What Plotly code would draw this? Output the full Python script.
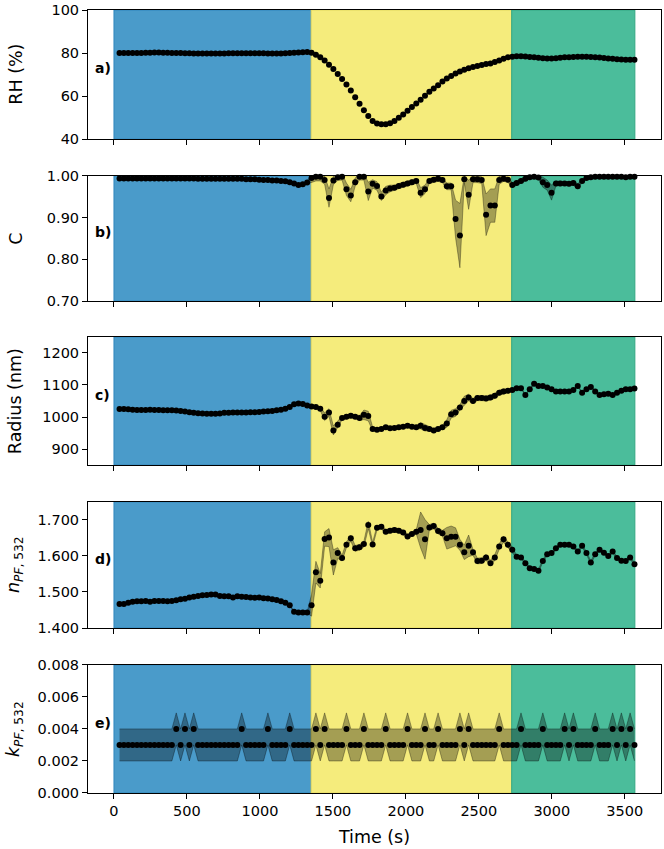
import plotly.graph_objects as go

# ---------------- data ----------------
N = 119
time_s = [round(38 + 29.9 * i, 1) for i in range(N)]  # sampling grid (s)

phase_edges = [0, 1351, 2725, 3569]
phase_colors = ["#4a9bca", "#f5ec7c", "#4bbd9b"]
phase_edge_colors = ["#2f86bd", "#e2d75e", "#34a883"]

rh = [80.0, 80.0, 80.0, 80.0, 80.0, 80.0, 80.1, 80.2, 80.3, 80.3, 80.2, 80.1, 80.0, 80.0, 80.0,
      79.9, 79.9, 79.8, 79.8, 79.8, 79.8, 79.8, 79.8, 79.8, 79.8, 79.9, 79.9, 79.9, 79.9, 79.9,
      79.9, 79.9, 79.9, 79.9, 79.8, 79.8, 79.8, 79.8, 79.9, 80.0, 80.2, 80.3, 80.4, 80.5,
      80.1, 79.2, 78.0, 76.5, 74.6, 72.6, 70.3, 68.0, 65.4, 62.6, 59.5, 56.5, 53.4, 50.8, 48.5,
      47.3, 46.9, 46.9, 47.4, 48.5, 50.0, 51.5, 53.2, 54.9, 56.6, 58.3, 60.2, 62.0, 63.5, 65.1,
      66.8, 68.2, 69.4, 70.5, 71.4, 72.3, 72.9, 73.5, 74.0, 74.5, 74.9, 75.2, 75.8, 76.6, 77.4,
      78.0, 78.3,
      78.5, 78.5, 78.4, 78.2, 78.0, 77.8, 77.6, 77.5, 77.5, 77.6, 77.8, 78.0, 78.1, 78.2, 78.3,
      78.3, 78.3, 78.2, 78.1, 77.9, 77.7, 77.5, 77.3, 77.1, 77.0, 76.9, 76.9, 76.9]

c_val = [0.994, 0.994, 0.994, 0.994, 0.994, 0.994, 0.994, 0.994, 0.994, 0.994, 0.994, 0.994,
         0.994, 0.994, 0.994, 0.994, 0.994, 0.994, 0.993, 0.993, 0.993, 0.993, 0.993, 0.993,
         0.993, 0.993, 0.993, 0.993, 0.993, 0.992, 0.992, 0.992, 0.991, 0.990, 0.990, 0.989,
         0.989, 0.988, 0.987, 0.985, 0.982, 0.978, 0.980, 0.984,
         0.995, 0.998, 0.998, 0.990, 0.947, 0.989, 0.997, 0.998, 0.968, 0.953, 0.985, 0.998,
         0.998, 0.963, 0.981, 0.976, 0.951, 0.965, 0.970, 0.972, 0.976, 0.979, 0.982, 0.985,
         0.988, 0.960, 0.968, 0.988, 0.991, 0.993, 0.990, 0.975, 0.975, 0.897, 0.857, 0.992,
         0.955, 0.992, 0.992, 0.990, 0.907, 0.929, 0.929, 0.990, 0.993, 0.991, 0.978,
         0.983, 0.988, 0.993, 0.997, 0.998, 0.996, 0.985, 0.978, 0.960, 0.982, 0.982, 0.982,
         0.981, 0.983, 0.975, 0.988, 0.995, 0.997, 0.998, 0.998, 0.998, 0.998, 0.998, 0.998,
         0.998, 0.997, 0.998, 0.998]
c_err = [0.003] * 44 + [0.010, 0.010, 0.010, 0.010, 0.022, 0.010, 0.008, 0.008, 0.015, 0.015,
         0.010, 0.008, 0.008, 0.022, 0.010, 0.010, 0.010, 0.010, 0.008, 0.006, 0.006, 0.006,
         0.006, 0.006, 0.006, 0.012, 0.010, 0.006, 0.006, 0.006, 0.006, 0.008, 0.008, 0.045,
         0.077, 0.008, 0.035, 0.008, 0.008, 0.008, 0.050, 0.040, 0.040, 0.010, 0.006, 0.006,
         0.006] + [0.005, 0.005, 0.005, 0.004, 0.004, 0.004, 0.012, 0.012, 0.018, 0.006, 0.005,
         0.005, 0.005, 0.005, 0.006, 0.004, 0.003, 0.003, 0.003, 0.003, 0.003, 0.003, 0.003,
         0.003, 0.003, 0.003, 0.003, 0.003]

radius = [1025, 1025, 1024, 1023, 1022, 1022, 1022, 1023, 1022, 1022, 1021, 1021, 1021, 1020,
          1019, 1017, 1015, 1013, 1012, 1011, 1010, 1010, 1010, 1011, 1013, 1013, 1014, 1014,
          1014, 1014, 1015, 1015, 1016, 1017, 1018, 1019, 1021, 1023, 1026, 1031, 1040, 1042,
          1041, 1036,
          1033, 1031, 1026, 1001, 1014, 958, 976, 997, 1001, 1004, 1001, 997, 1007, 1003, 963,
          960, 963, 968, 965, 966, 968, 970, 973, 970, 968, 973, 966, 963, 958, 963, 968, 980,
          1009, 1014, 1030, 1050, 1061, 1050, 1059, 1059, 1058, 1061, 1066, 1076, 1080, 1082,
          1084,
          1090, 1090, 1069, 1087, 1104, 1097, 1097, 1092, 1087, 1080, 1080, 1080, 1080, 1084,
          1097, 1076, 1087, 1094, 1080, 1069, 1071, 1073, 1069, 1076, 1082, 1087, 1087, 1089]
radius_err = [2] * 44 + [5, 5, 6, 12, 12, 14, 10, 6, 6, 6, 6, 8, 15, 15, 6, 5, 5, 5, 5, 5, 5,
              5, 5, 5, 5, 10, 10, 6, 6, 6, 6, 12, 12, 12, 8, 15, 10, 8, 8, 8, 8, 8, 8, 8, 8, 5,
              4] + [2] * 28

n_pf = [1.467, 1.467, 1.470, 1.473, 1.474, 1.474, 1.475, 1.473, 1.475, 1.475, 1.475, 1.474,
        1.475, 1.477, 1.480, 1.481, 1.485, 1.487, 1.489, 1.491, 1.492, 1.493, 1.493, 1.489,
        1.488, 1.488, 1.485, 1.488, 1.487, 1.486, 1.485, 1.484, 1.485, 1.483, 1.482, 1.480,
        1.478, 1.474, 1.470, 1.463, 1.445, 1.443, 1.443, 1.443,
        1.463, 1.555, 1.531, 1.647, 1.651, 1.582, 1.608, 1.594, 1.631, 1.649, 1.621, 1.624,
        1.633, 1.686, 1.632, 1.678, 1.681, 1.667, 1.670, 1.672, 1.670, 1.665, 1.654, 1.661,
        1.667, 1.672, 1.646, 1.679, 1.683, 1.669, 1.663, 1.649, 1.653, 1.653, 1.631, 1.610,
        1.628, 1.610, 1.586, 1.587, 1.596, 1.580, 1.596, 1.626, 1.646, 1.631, 1.617,
        1.598, 1.596, 1.580, 1.566, 1.564, 1.559, 1.586, 1.605, 1.608, 1.621, 1.631, 1.631,
        1.631, 1.626, 1.612, 1.628, 1.608, 1.582, 1.605, 1.617, 1.609, 1.600, 1.612, 1.594,
        1.587, 1.586, 1.596, 1.577]
n_err = [0.002] * 44 + [0.030, 0.030, 0.020, 0.020, 0.025, 0.035, 0.015, 0.008, 0.008, 0.008,
         0.008, 0.008, 0.008, 0.010, 0.006, 0.006, 0.006, 0.006, 0.006, 0.006, 0.006, 0.006,
         0.006, 0.006, 0.006, 0.050, 0.055, 0.008, 0.008, 0.008, 0.008, 0.030, 0.030, 0.025,
         0.015, 0.020, 0.030, 0.008, 0.008, 0.008, 0.008, 0.008, 0.008, 0.008, 0.008, 0.008,
         0.008] + [0.004] * 28

k_pf = [0.003, 0.003, 0.003, 0.003, 0.003, 0.003, 0.003, 0.003, 0.003, 0.003,   # 0-9
        0.003, 0.003, 0.003, 0.004, 0.003, 0.004, 0.003, 0.004, 0.003, 0.003,   # 10-19
        0.003, 0.003, 0.003, 0.003, 0.003, 0.003, 0.003, 0.003, 0.004, 0.003,   # 20-29
        0.003, 0.003, 0.003, 0.003, 0.004, 0.003, 0.003, 0.003, 0.003, 0.004,   # 30-39
        0.003, 0.003, 0.003, 0.003, 0.003, 0.004, 0.003, 0.004, 0.003, 0.003,   # 40-49
        0.003, 0.003, 0.004, 0.003, 0.003, 0.003, 0.004, 0.003, 0.003, 0.003,   # 50-59
        0.003, 0.004, 0.003, 0.003, 0.003, 0.003, 0.004, 0.003, 0.003, 0.003,   # 60-69
        0.004, 0.003, 0.003, 0.004, 0.003, 0.003, 0.003, 0.003, 0.004, 0.003,   # 70-79
        0.004, 0.003, 0.003, 0.003, 0.003, 0.003, 0.003, 0.004, 0.003, 0.003,   # 80-89
        0.003, 0.003, 0.004, 0.003, 0.003, 0.003, 0.003, 0.004, 0.003, 0.003,   # 90-99
        0.003, 0.003, 0.004, 0.003, 0.004, 0.003, 0.003, 0.003, 0.003, 0.004,   # 100-109
        0.003, 0.003, 0.003, 0.004, 0.003, 0.004, 0.003, 0.004, 0.003]          # 110-118
k_err = [0.001] * N

x_ticks = [0, 500, 1000, 1500, 2000, 2500, 3000, 3500]

panels = [
    dict(y=rh, err=None, rng=[40, 100], ticks=[40, 60, 80, 100], fmt="d",
         title="RH (%)", label="a)"),
    dict(y=c_val, err=c_err, rng=[0.70, 1.00], ticks=[0.70, 0.80, 0.90, 1.00], fmt=".2f",
         title="C", label="b)"),
    dict(y=radius, err=radius_err, rng=[850, 1250], ticks=[900, 1000, 1100, 1200], fmt="d",
         title="Radius (nm)", label="c)"),
    dict(y=n_pf, err=n_err, rng=[1.40, 1.75], ticks=[1.4, 1.5, 1.6, 1.7], fmt=".3f",
         title="<i>n</i><sub><i>PF</i>, 532</sub>", label="d)"),
    dict(y=k_pf, err=k_err, rng=[0.0, 0.008], ticks=[0, 0.002, 0.004, 0.006, 0.008],
         fmt=".3f", title="<i>k</i><sub><i>PF</i>, 532</sub>", label="e)"),
]

# ---------------- layout geometry ----------------
H = 849
top_m, bot_m = 5, 56
plot_h = H - top_m - bot_m
px_spans = [(5, 135), (172, 298), (334, 463), (500, 627), (664, 793)]
domains = [[(793 - b) / plot_h, (793 - a) / plot_h] for a, b in px_spans]

FONT = "DejaVu Sans"
band_col = "rgba(0,0,0,0.33)"

fig = go.Figure()
shapes = []
annotations = []

for p, pan in enumerate(panels, start=1):
    xa = "x" if p == 1 else f"x{p}"
    ya = "y" if p == 1 else f"y{p}"
    # phase backgrounds
    for j in range(3):
        shapes.append(dict(type="rect", xref=xa, yref=f"{ya} domain",
                           x0=phase_edges[j], x1=phase_edges[j + 1], y0=0, y1=1,
                           fillcolor=phase_colors[j],
                           line=dict(color=phase_edge_colors[j], width=1),
                           layer="below"))
    # uncertainty band
    if pan["err"] is not None:
        lo = [v - e for v, e in zip(pan["y"], pan["err"])]
        hi = [v + e for v, e in zip(pan["y"], pan["err"])]
        fig.add_trace(go.Scatter(x=time_s, y=lo, mode="lines", xaxis=xa, yaxis=ya,
                                 line=dict(color=band_col, width=1), showlegend=False,
                                 hoverinfo="skip"))
        fig.add_trace(go.Scatter(x=time_s, y=hi, mode="lines", xaxis=xa, yaxis=ya,
                                 line=dict(color=band_col, width=1), fill="tonexty",
                                 fillcolor=band_col, showlegend=False, hoverinfo="skip"))
    # data points
    fig.add_trace(go.Scatter(x=time_s, y=pan["y"], mode="markers", xaxis=xa, yaxis=ya,
                             marker=dict(color="black", size=6), cliponaxis=False,
                             showlegend=False))

    axis_common = dict(showline=True, linecolor="black", linewidth=1, mirror=True,
                       ticks="outside", ticklen=5, tickwidth=1, tickcolor="black",
                       showgrid=False, zeroline=False,
                       tickfont=dict(family=FONT, size=14.5, color="black"))
    xdict = dict(domain=[0, 1], range=[-178, 3748], anchor=ya, tickvals=x_ticks,
                 showticklabels=(p == 5), **axis_common)
    if p == 5:
        xdict["title"] = dict(text="Time (s)",
                              font=dict(family=FONT, size=17.5, color="black"), standoff=12)
    fig.update_layout(**{
        ("xaxis" if p == 1 else f"xaxis{p}"): xdict,
        ("yaxis" if p == 1 else f"yaxis{p}"): dict(
            domain=domains[p - 1], range=pan["rng"], anchor=xa, tickvals=pan["ticks"],
            tickformat=pan["fmt"], **axis_common),
    })
    dom = domains[p - 1]
    annotations.append(dict(text=pan["title"], xref="paper", yref="paper",
                            x=(15 - 88) / 574, y=(dom[0] + dom[1]) / 2,
                            textangle=-90, showarrow=False, xanchor="center",
                            yanchor="middle",
                            font=dict(family=FONT, size=17.5, color="black")))
    annotations.append(dict(text=f"<b>{pan['label']}</b>", xref=f"{xa} domain",
                            yref=f"{ya} domain", x=0.008, y=0.55, showarrow=False,
                            xanchor="left", yanchor="middle",
                            font=dict(family=FONT, size=14, color="black")))

fig.update_layout(width=664, height=849, margin=dict(l=88, r=2, t=top_m, b=bot_m),
                  plot_bgcolor="white", paper_bgcolor="white", shapes=shapes,
                  annotations=annotations, showlegend=False,
                  font=dict(family=FONT, color="black"))

fig.write_html("out.html")
